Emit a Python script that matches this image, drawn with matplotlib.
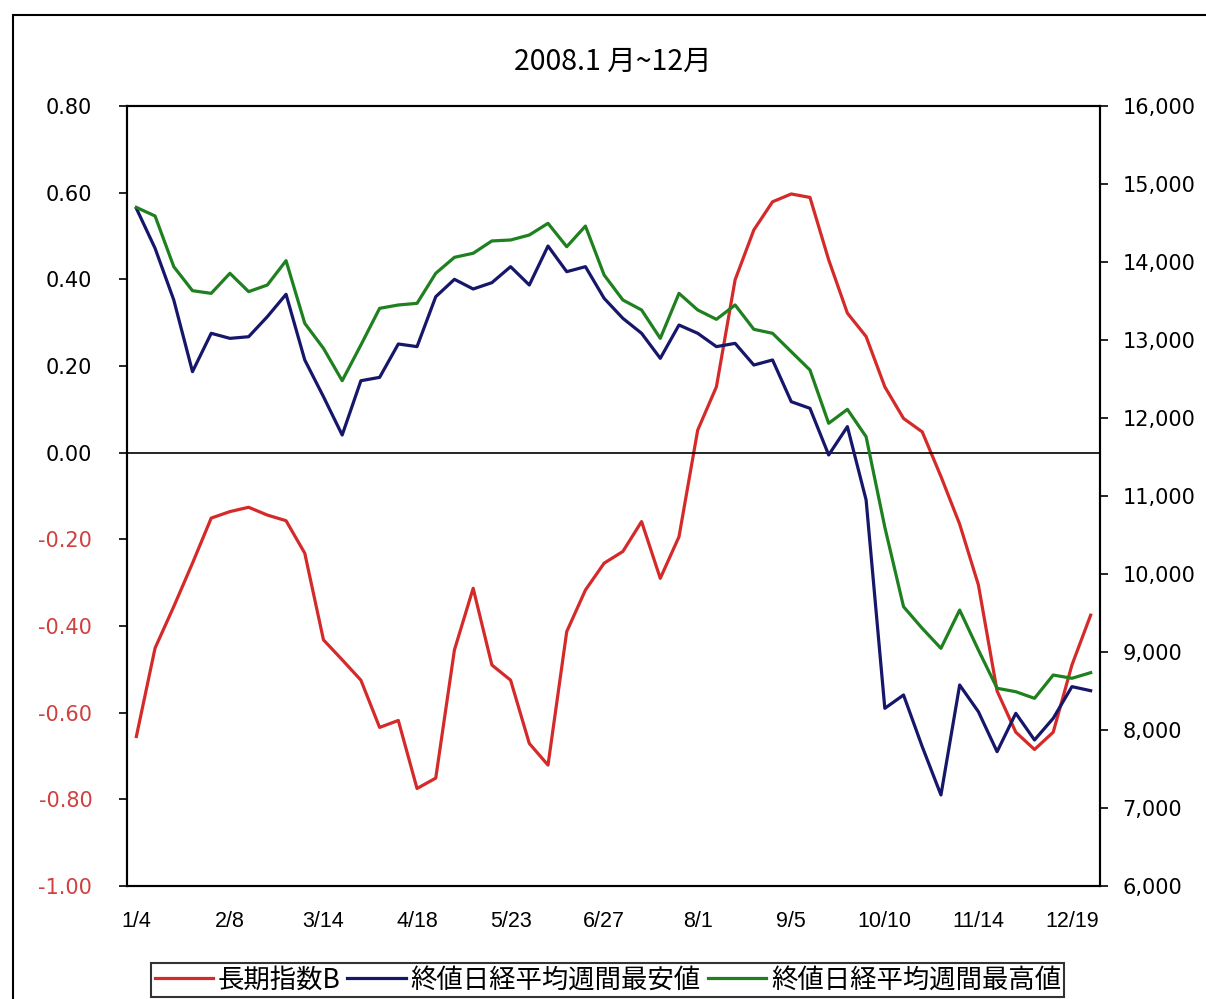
#Weekly chart 2008: long-term index B vs Nikkei weekly low / high
import numpy as np
import pandas as pd
import matplotlib
matplotlib.use("Agg")
import matplotlib.pyplot as plt
from matplotlib.patches import Rectangle

plt.rcParams['font.family'] = ['Noto Sans CJK JP', 'DejaVu Sans']

#Weeks (Fridays of 2008)
weeks = pd.date_range("2008-01-04", periods=52, freq="7D")
week_labels = [f"{d.month}/{d.day}" for d in weeks]

#長期指数B (left axis)
index_b = [-0.655, -0.451, -0.355, -0.255, -0.151, -0.136, -0.126, -0.144, -0.157, -0.232,
           -0.432, -0.478, -0.525, -0.634, -0.618, -0.775, -0.751, -0.455, -0.313, -0.490,
           -0.525, -0.671, -0.721, -0.413, -0.317, -0.255, -0.228, -0.159, -0.290, -0.194,
           0.052, 0.152, 0.399, 0.514, 0.579, 0.597, 0.589, 0.445, 0.322, 0.268,
           0.152, 0.079, 0.048, -0.055, -0.165, -0.305, -0.550, -0.645, -0.685, -0.645,
           -0.490, -0.375]

#終値日経平均週間最安値 (right axis)
nikkei_low = [14688, 14176, 13513, 12594, 13086, 13021, 13042, 13299, 13586, 12744,
              12273, 11782, 12478, 12521, 12949, 12915, 13555, 13778, 13654, 13735,
              13940, 13705, 14205, 13876, 13940, 13534, 13278, 13086, 12765, 13192,
              13086, 12915, 12957, 12679, 12744, 12209, 12124, 11526, 11889, 10949,
              8278, 8449, 7786, 7167, 8577, 8235, 7722, 8214, 7872, 8150,
              8556, 8504]

#終値日経平均週間最高値 (right axis)
nikkei_high = [14700, 14590, 13940, 13632, 13598, 13855, 13620, 13705, 14017, 13214,
               12893, 12478, 12936, 13406, 13449, 13470, 13855, 14060, 14112, 14270,
               14282, 14346, 14496, 14196, 14461, 13833, 13513, 13385, 13021, 13598,
               13385, 13265, 13449, 13137, 13086, 12850, 12615, 11932, 12111, 11760,
               10600, 9581, 9303, 9047, 9538, 9026, 8535, 8491, 8406, 8705,
               8663, 8735]

series_names = ["長期指数B", "終値日経平均週間最安値", "終値日経平均週間最高値"]
left_ticks = np.round(np.arange(-1.0, 0.81, 0.2), 2) + 0.0
right_ticks = np.arange(6000, 16001, 1000)

x = np.arange(len(weeks))

fig = plt.figure(figsize=(12.06, 9.99), dpi=100)
ax = fig.add_axes([127/1206, 1 - 886/999, 973/1206, 780/999])
ax2 = ax.twinx()

l1, = ax.plot(x, index_b, color="#d42a2a", linewidth=2.3, label=series_names[0])
l2, = ax2.plot(x, nikkei_low, color="#16166a", linewidth=2.3, label=series_names[1])
l3, = ax2.plot(x, nikkei_high, color="#1f801f", linewidth=2.3, label=series_names[2])

ax.axhline(y=0, color="black", linewidth=1.2)

ax.set_xlim(-0.5, len(weeks) - 0.5)
ax.set_ylim(-1.0, 0.8)
ax2.set_ylim(6000, 16000)

ax.set_xticks(x[::5])
ax.set_xticklabels(week_labels[::5], family="Liberation Sans", fontsize=15.5)
ax.tick_params(axis="x", length=0, pad=18)

ax.set_yticks(left_ticks)
ax.set_yticklabels(["0.00" if abs(v) < 1e-9 else f"{v:.2f}" for v in left_ticks],
                   family="DejaVu Sans", fontsize=15)
for lab, v in zip(ax.get_yticklabels(), left_ticks):
    lab.set_color("#d04040" if v < -1e-9 else "black")
ax.tick_params(axis="y", direction="out", length=6, width=1.2, pad=19)

ax2.set_yticks(right_ticks)
ax2.set_yticklabels([f"{v:,}" for v in right_ticks], family="DejaVu Sans", fontsize=15)
ax2.tick_params(axis="y", direction="out", length=6, width=1.2, pad=10)

for a in (ax, ax2):
    for s in a.spines.values():
        s.set_linewidth(1.5)
        s.set_color("black")

fig.text(0.508, 1 - 62/999, "2008.1 月~12月", ha="center", va="center", fontsize=20.5)

leg = fig.legend(handles=[l1, l2, l3], loc="center", bbox_to_anchor=(0.504, 0.019),
                 ncol=3, fontsize=19, frameon=True, fancybox=False, edgecolor="black",
                 handlelength=2.2, handletextpad=0.2, columnspacing=0.25,
                 borderpad=0.12, borderaxespad=0)
leg.get_frame().set_linewidth(1.5)

#Outer chart frame
fig.add_artist(Rectangle((13/1206, -0.1), 1.1, 1.1 - 15/999, transform=fig.transFigure,
                         fill=False, edgecolor="black", linewidth=1.5))

fig.savefig("out.png", dpi=100, facecolor="white")
